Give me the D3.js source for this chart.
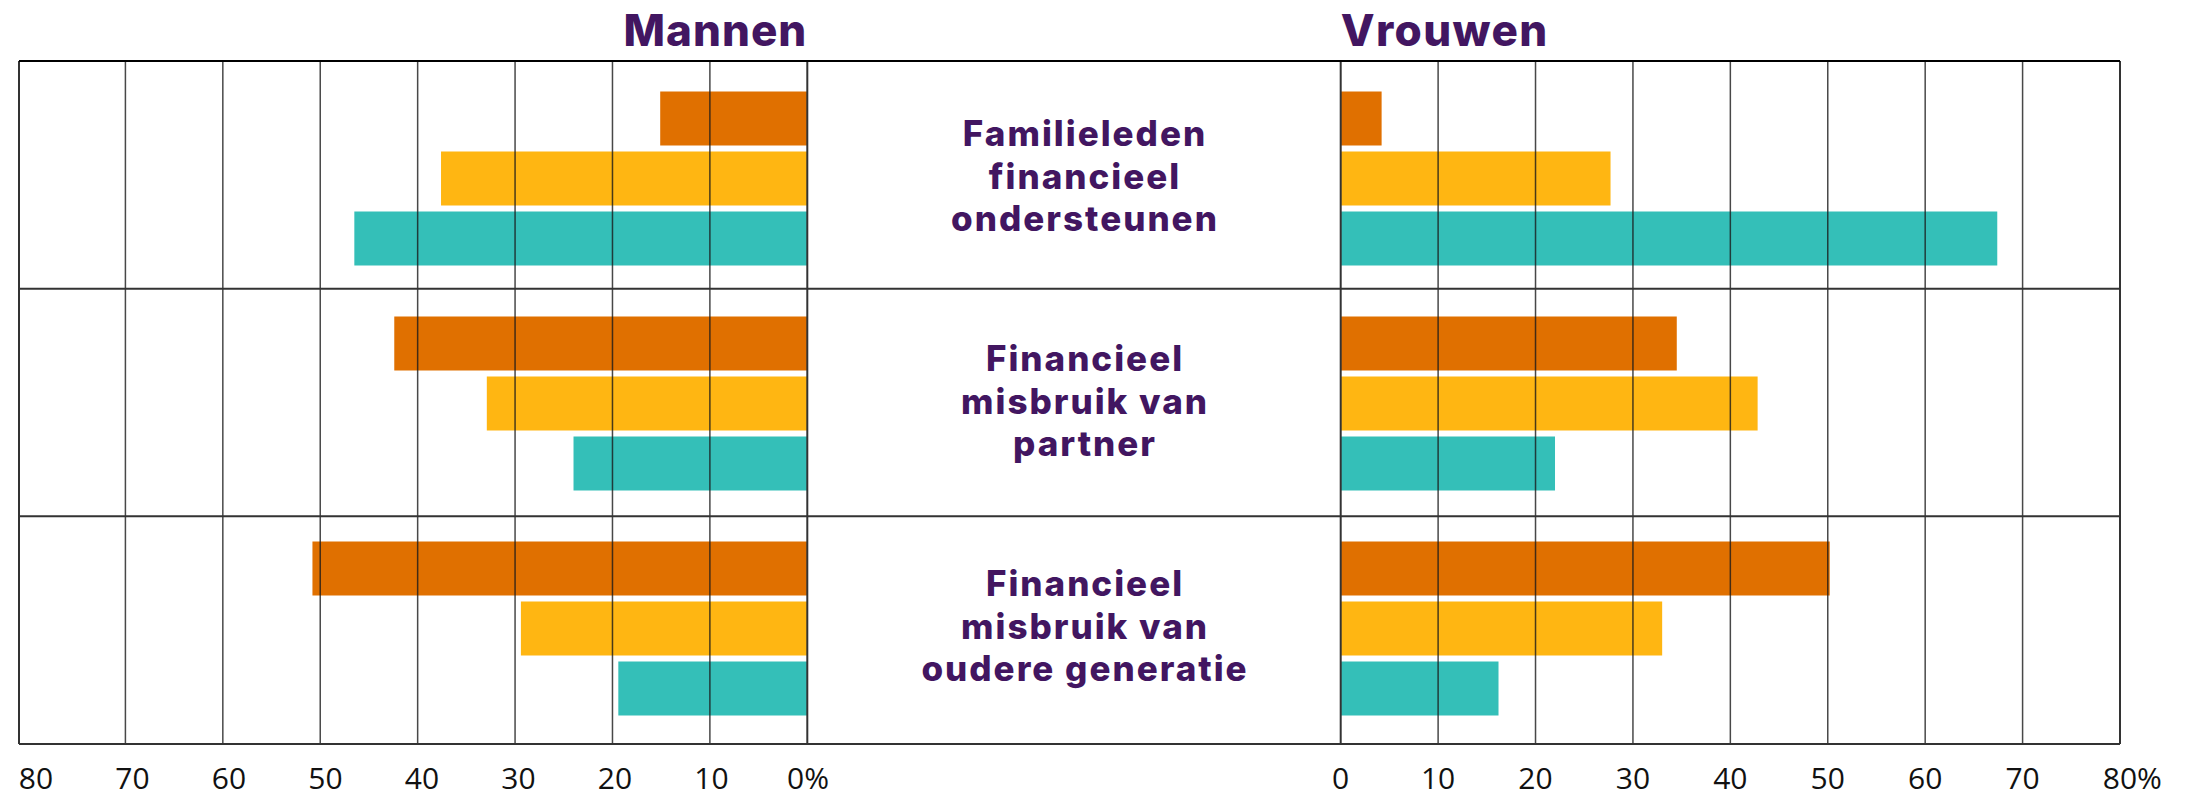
<!DOCTYPE html>
<html>
<head>
<meta charset="utf-8">
<script src="https://cdn.jsdelivr.net/npm/d3@7"></script>
<style>
  body { margin: 0; background: #fff; }
  svg text { font-kerning: normal; }
</style>
</head>
<body>
<script>
var width = 2206, height = 798;

// categorieen (van boven naar beneden), met regels zoals in het origineel
var categories = ["familie", "partner", "generatie"];
var labelLines = [
    ["Familieleden", "financieel", "ondersteunen"],
    ["Financieel", "misbruik van", "partner"],
    ["Financieel", "misbruik van", "oudere generatie"]
];

// drie reeksen per categorie (oranje, geel, turquoise)
var series = ["oranje", "geel", "turquoise"];
var seriesColors = ["#e07000", "#ffb612", "#34bfb8"];

// percentages Mannen
var mannenOranje = [15.1, 42.4, 50.8];
var mannenGeel = [37.6, 32.9, 29.4];
var mannenTurquoise = [46.5, 24.0, 19.4];

// percentages Vrouwen
var vrouwenOranje = [4.2, 34.5, 50.2];
var vrouwenGeel = [27.7, 42.8, 33.0];
var vrouwenTurquoise = [67.4, 22.0, 16.2];

var ticks = [0, 10, 20, 30, 40, 50, 60, 70, 80];

var purple = "#421661";

var svg = d3.select("body")
    .append("svg")
    .attr("width", width)
    .attr("height", height);

// schalen
var frameLeft = 19, frameRight = 2120, frameTop = 61, frameBottom = 744;
var xL = d3.scaleLinear().domain([0, 80]).range([807.3, 28]);
var xR = d3.scaleLinear().domain([0, 80]).range([1340.7, 2120]);
// plaats van de getallen onder de linkerkant
var xLabelL = d3.scaleLinear().domain([0, 80]).range([808, 36]);

var yFrame = d3.scaleBand().domain(categories).range([frameTop, frameBottom]);
var yBand = d3.scaleBand().domain(categories).range([66, 741]);
var ySub = d3.scaleBand().domain(series).range([0, 174]).paddingInner(0.1);

var mannen = [mannenOranje, mannenGeel, mannenTurquoise];
var vrouwen = [vrouwenOranje, vrouwenGeel, vrouwenTurquoise];

var barData = [];
categories.forEach(function(c, i) {
    series.forEach(function(s, j) {
        barData.push({cat: c, serie: s, color: seriesColors[j], m: mannen[j][i], v: vrouwen[j][i]});
    });
});

var barOffset = (yBand.bandwidth() - 174) / 2;

var bars = svg.append("g");

// Mannen: naar links
bars.selectAll(".m")
    .data(barData)
    .enter()
    .append("rect")
    .attr("class", "m")
    .attr("x", function(d) { return xL(d.m); })
    .attr("y", function(d) { return yBand(d.cat) + barOffset + ySub(d.serie); })
    .attr("width", function(d) { return xL(0) - xL(d.m); })
    .attr("height", ySub.bandwidth())
    .attr("fill", function(d) { return d.color; });

// Vrouwen: naar rechts
bars.selectAll(".v")
    .data(barData)
    .enter()
    .append("rect")
    .attr("class", "v")
    .attr("x", xR(0))
    .attr("y", function(d) { return yBand(d.cat) + barOffset + ySub(d.serie); })
    .attr("width", function(d) { return xR(d.v) - xR(0); })
    .attr("height", ySub.bandwidth())
    .attr("fill", function(d) { return d.color; });

// rasterlijnen over de balken heen
var grid = svg.append("g")
    .attr("stroke", "#1a1a1a")
    .attr("stroke-opacity", 0.8)
    .attr("stroke-width", 1.5);

var inner = ticks.filter(function(t) { return t > 0 && t < 80; });

grid.selectAll(".gl")
    .data(inner)
    .enter()
    .append("line")
    .attr("x1", function(d) { return xL(d); })
    .attr("x2", function(d) { return xL(d); })
    .attr("y1", frameTop)
    .attr("y2", frameBottom);

grid.selectAll(".gr")
    .data(inner)
    .enter()
    .append("line")
    .attr("x1", function(d) { return xR(d); })
    .attr("x2", function(d) { return xR(d); })
    .attr("y1", frameTop)
    .attr("y2", frameBottom);

// nul-lijnen en kader
var frame = svg.append("g")
    .attr("stroke", "#333")
    .attr("stroke-width", 2)
    .attr("fill", "none");

[xL(0), xR(0), frameLeft, frameRight].forEach(function(x) {
    frame.append("line")
        .attr("x1", x).attr("x2", x)
        .attr("y1", frameTop).attr("y2", frameBottom);
});

var rowLines = categories.map(function(c) { return yFrame(c); }).concat([frameBottom]);
frame.selectAll(".row")
    .data(rowLines)
    .enter()
    .append("line")
    .attr("x1", frameLeft)
    .attr("x2", frameRight)
    .attr("y1", function(d) { return d; })
    .attr("y2", function(d) { return d; })
    .attr("stroke", function(d, i) { return i == 0 ? "#000" : "#333"; });

// titels
svg.append("text")
    .attr("x", xL(0))
    .attr("y", 45.7)
    .attr("text-anchor", "end")
    .attr("fill", purple)
    .style("font-family", "Inter, sans-serif")
    .style("font-weight", 800)
    .style("font-size", "44px")
    .style("letter-spacing", "1px")
    .text("Mannen");

svg.append("text")
    .attr("x", xR(0))
    .attr("y", 45.7)
    .attr("fill", purple)
    .style("font-family", "Inter, sans-serif")
    .style("font-weight", 800)
    .style("font-size", "44px")
    .style("letter-spacing", "1.4px")
    .text("Vrouwen");

// categorielabels in het midden
var midX = 1085;
var lineH = 42.4;
var labels = svg.append("g")
    .attr("fill", purple)
    .attr("text-anchor", "middle")
    .style("font-family", "Inter, sans-serif")
    .style("font-weight", 800)
    .style("font-size", "35px")
    .style("letter-spacing", "2px");

categories.forEach(function(c, i) {
    var cy = yBand(c) + yBand.bandwidth() / 2 + 10;
    labelLines[i].forEach(function(l, k) {
        labels.append("text")
            .attr("x", midX)
            .attr("y", cy + (k - 1) * lineH)
            .text(l);
    });
});

// getallen onder de as
var tickText = svg.append("g")
    .attr("fill", "#111")
    .style("font-family", "'Open Sans', sans-serif")
    .style("font-size", "30px");

tickText.selectAll(".tl")
    .data(ticks)
    .enter()
    .append("text")
    .attr("x", function(d) { return xLabelL(d); })
    .attr("y", 789)
    .attr("text-anchor", "middle")
    .text(function(d) { return d == 0 ? "0%" : d; });

tickText.selectAll(".tr")
    .data(ticks)
    .enter()
    .append("text")
    .attr("x", function(d) { return xR(d); })
    .attr("y", 789)
    .attr("text-anchor", "middle")
    .text(function(d) { return d; });

tickText.append("text")
    .attr("x", xR(80) + 17)
    .attr("y", 789)
    .text("%");
</script>
</body>
</html>
